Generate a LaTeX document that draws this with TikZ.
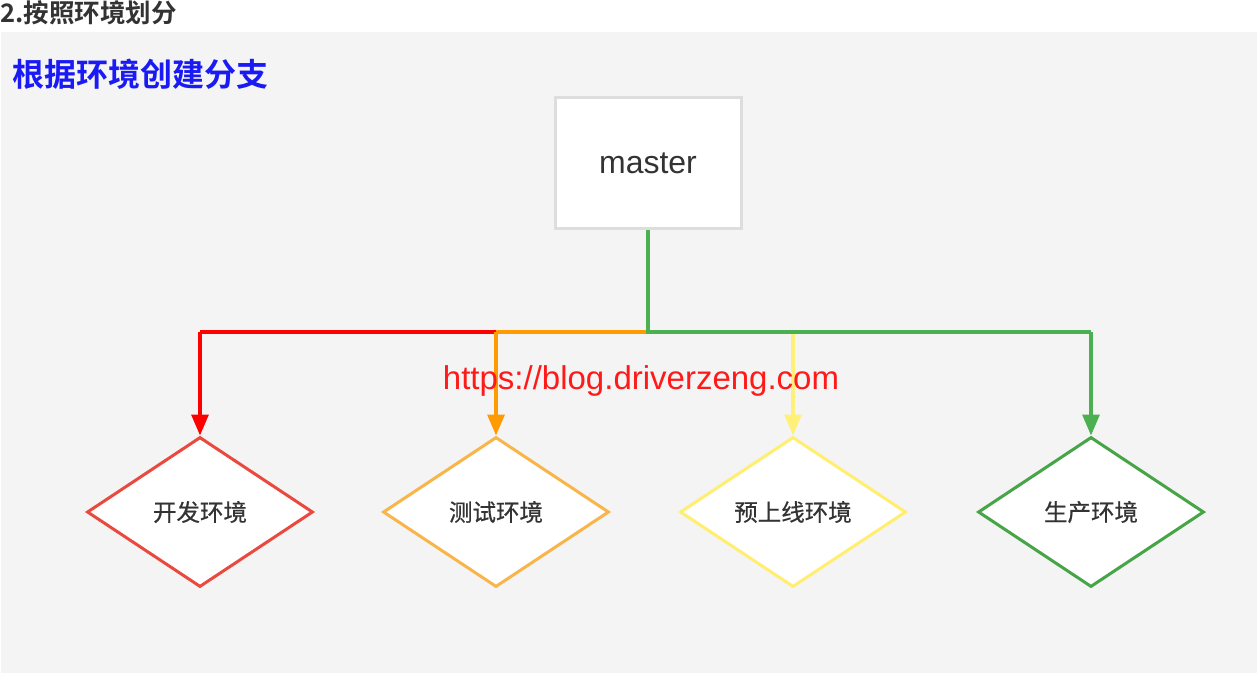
\documentclass[tikz,border=0pt]{standalone}
\usepackage{fontspec}
\setmainfont{Liberation Sans}
\newfontfamily\cjk{Noto Sans CJK SC}
\newfontfamily\cjkmid[FakeBold=0.6]{Noto Sans CJK SC}
\newfontfamily\cjkbold{Noto Sans CJK SC Bold}
\usetikzlibrary{arrows.meta,shapes.geometric}

\definecolor{panel}{HTML}{F4F4F4}
\definecolor{boxline}{HTML}{DDDDDD}
\definecolor{inktext}{HTML}{333333}
\definecolor{headblue}{HTML}{1A1AF5}
\definecolor{wred}{HTML}{FF1A1A}
\definecolor{lred}{HTML}{FF0000}
\definecolor{dred}{HTML}{EA4A3E}
\definecolor{lorange}{HTML}{FF9A00}
\definecolor{dorange}{HTML}{F8B54A}
\definecolor{lyellow}{HTML}{FFF07A}
\definecolor{dyellow}{HTML}{FFEE70}
\definecolor{lgreen}{HTML}{4CAF50}
\definecolor{dgreen}{HTML}{47A447}

\tikzset{
  envbox/.style={diamond, draw=#1, line width=3pt, fill=white,
    minimum width=226pt, minimum height=150pt, inner sep=0pt, aspect=1.5,
    font=\cjkmid\fontsize{23.5}{27}\selectfont, text=inktext},
  branch/.style={draw=#1, line width=3.2pt},
  branchto/.style={draw=#1, line width=3.2pt,
    -{Triangle[length=21pt,width=17pt]}, fill=#1},
}

\begin{document}
\begin{tikzpicture}[x=1pt,y=-1pt]
  \useasboundingbox (0,0) rectangle (1257,673);
  \fill[panel] (1,32) rectangle (1257,673);

  % headings
  \node[anchor=west, inner sep=0pt, text=inktext,
        font=\cjkbold\fontsize{25.5}{29}\selectfont] (title) at (0,13) {2.按照环境划分};
  \node[anchor=west, inner sep=0pt, text=headblue,
        font=\cjkbold\fontsize{32}{36}\selectfont] (sub) at (12,74) {根据环境创建分支};

  % master branch
  \node[draw=boxline, line width=3pt, fill=white, minimum width=186pt,
        minimum height=131pt, inner sep=0pt, font=\fontsize{32}{36}\selectfont,
        text=inktext] (master) at (648,163) {master};

  % environment branches
  \node[envbox=dred]    (dev)  at (200,512)  {开发环境};
  \node[envbox=dorange] (test) at (496,512)  {测试环境};
  \node[envbox=dyellow] (pre)  at (793,512)  {预上线环境};
  \node[envbox=dgreen]  (prod) at (1091,512) {生产环境};

  \coordinate (j) at (648,332);

  % connectors
  \draw[branch=lred] (test.north |- j) -- (dev.north |- j);
  \draw[branchto=lred] (dev.north |- j) -- (dev.north);
  \draw[branch=lorange] (j) -- (test.north |- j);
  \draw[branchto=lorange] (test.north |- j) -- (test.north);
  \draw[branchto=lyellow] ([yshift=1.6pt]pre.north |- j) -- (pre.north);
  \draw[branch=lgreen] (master.south) -- (j) -- (prod.north |- j);
  \draw[branchto=lgreen] (prod.north |- j) -- (prod.north);

  % watermark
  \node[text=wred, font=\fontsize{33}{38}\selectfont, inner sep=0pt] (url)
    at (641,381) {https://blog.driverzeng.com};
\end{tikzpicture}
\end{document}
